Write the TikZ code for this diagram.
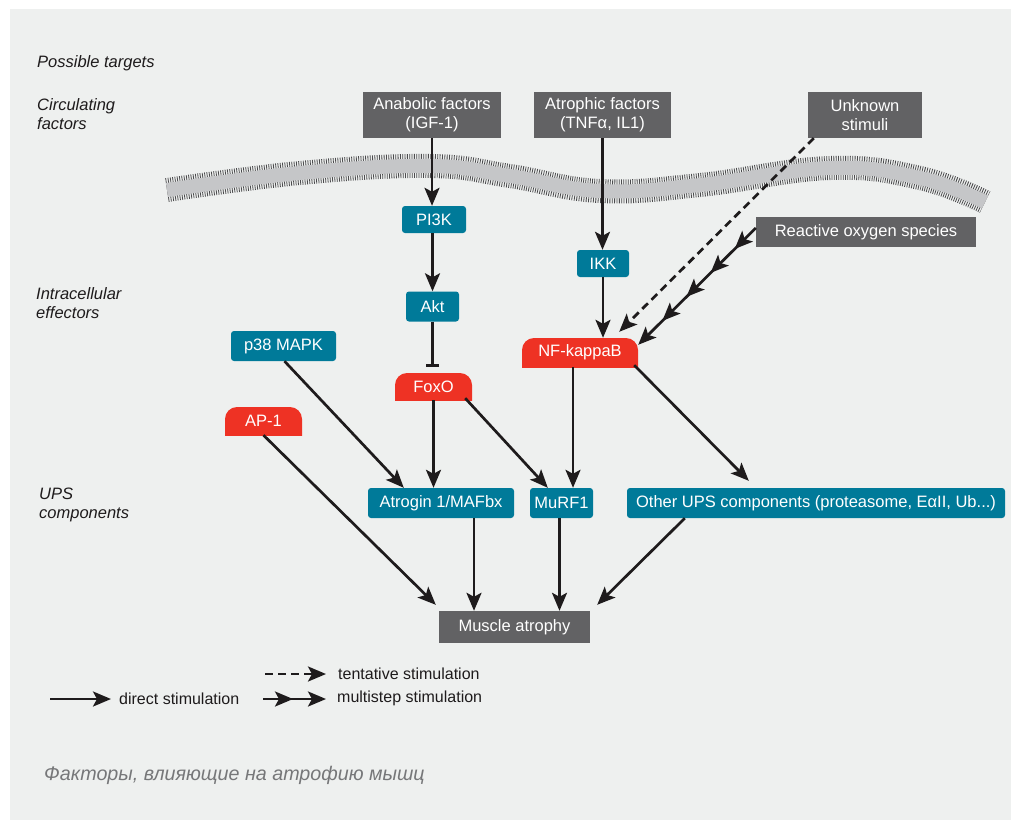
\documentclass[tikz,border=0pt]{standalone}
\usepackage{fontspec}
\setmainfont{Liberation Sans}
\usetikzlibrary{arrows.meta,calc,decorations.markings}
\definecolor{bgc}{RGB}{238,240,239}
\definecolor{dkbox}{RGB}{98,98,100}
\definecolor{tealc}{RGB}{0,122,153}
\definecolor{redc}{RGB}{238,50,36}
\definecolor{linec}{RGB}{30,27,28}
\definecolor{membc}{RGB}{197,198,200}
\definecolor{hatchc}{RGB}{75,75,77}
\definecolor{capc}{RGB}{118,119,121}
\newcommand{\boxfont}{\fontsize{16.5}{19}\selectfont}
\begin{document}
\begin{tikzpicture}[x=1pt,y=-1pt,
  dkb/.style={fill=dkbox, text=white, inner sep=0pt, align=center, font=\boxfont},
  tlb/.style={fill=tealc, rounded corners=3pt, text=white, inner sep=0pt, align=center, font=\boxfont},
  rdb/.style={text=white, inner sep=0pt, font=\boxfont,
    path picture={\fill[redc, rounded corners=12pt] ([yshift=-16pt]path picture bounding box.south west) rectangle (path picture bounding box.north east);}},
  lbl/.style={anchor=west, align=left, text=linec, font=\fontsize{16.5}{19.5}\selectfont\itshape, inner sep=0pt},
  lgt/.style={anchor=west, text=linec, font=\fontsize{16}{19}\selectfont, inner sep=0pt},
  conn/.style={draw=linec, line width=2.7pt, -{Stealth[length=18pt,width=15pt,inset=4pt]}},
  tent/.style={conn, dash pattern=on 8pt off 5pt},
  inhib/.style={draw=linec, line width=2.7pt, -{Bar[width=13pt,line width=2.7pt]}},
  multifive/.style={conn, postaction={decorate}, decoration={markings,
    mark=at position -34pt with {\arrow{Stealth[length=18pt,width=15pt,inset=4pt]}},
    mark=at position -68pt with {\arrow{Stealth[length=18pt,width=15pt,inset=4pt]}},
    mark=at position -102pt with {\arrow{Stealth[length=18pt,width=15pt,inset=4pt]}},
    mark=at position -136pt with {\arrow{Stealth[length=18pt,width=15pt,inset=4pt]}}}},
  multitwo/.style={conn, postaction={decorate}, decoration={markings,
    mark=at position -33pt with {\arrow{Stealth[length=18pt,width=15pt,inset=4pt]}}}}
]
\useasboundingbox (0,0) rectangle (1011,820);
\fill[white] (0,0) rectangle (1011,820);
\fill[bgc] (10,9) rectangle (1011,820);

% membrane
\draw[hatchc, line width=24pt, dash pattern=on 0.8pt off 1.5pt] plot[smooth, tension=0.7] coordinates {(167,190) (300,173) (430,166) (510,176) (600,191) (700,185) (830,168) (920,178) (985,202)};
\draw[membc, line width=14pt] plot[smooth, tension=0.7] coordinates {(167,190) (300,173) (430,166) (510,176) (600,191) (700,185) (830,168) (920,178) (985,202)};

% left labels
\node[lbl] (lpos) at (37,63) {Possible targets};
\node[lbl] (lcirc) at (37,114) {Circulating\\factors};
\node[lbl] (lintra) at (36,303) {Intracellular\\effectors};
\node[lbl] (lups) at (39,505) {UPS\\components};

% nodes
\node[dkb, minimum width=138pt, minimum height=46pt] (anab) at (432,115) {Anabolic factors\\(IGF-1)};
\node[dkb, minimum width=137pt, minimum height=46pt] (atro) at (602.5,115) {Atrophic factors\\(TNFα, IL1)};
\node[dkb, minimum width=114pt, minimum height=46pt] (unk) at (865,115) {Unknown\\stimuli};
\node[dkb, minimum width=220pt, minimum height=30pt] (ros) at (866,232) {Reactive oxygen species};
\node[dkb, minimum width=151pt, minimum height=32pt] (musc) at (514.5,627) {Muscle atrophy};

\node[tlb, minimum width=64pt, minimum height=27pt] (pi3k) at (434,219.5) {PI3K};
\node[tlb, minimum width=53pt, minimum height=30pt] (akt) at (432.5,306.5) {Akt};
\node[tlb, minimum width=52pt, minimum height=27pt] (ikk) at (603,263.5) {IKK};
\node[tlb, minimum width=105pt, minimum height=30pt] (p38) at (283.5,346) {p38 MAPK};
\node[tlb, minimum width=146pt, minimum height=30pt] (atrog) at (441,503) {Atrogin 1/MAFbx};
\node[tlb, minimum width=63pt, minimum height=30pt] (murf) at (561.5,503) {MuRF1};
\node[tlb, minimum width=378pt, minimum height=30pt] (ups) at (816,503) {Other UPS components (proteasome, EαII, Ub...)};

\node[rdb, minimum width=77pt, minimum height=27pt] (foxo) at (433.5,386.5) {FoxO};
\node[rdb, minimum width=116pt, minimum height=29pt] (nfkb) at (580,352.5) {NF-kappaB};
\node[rdb, minimum width=77pt, minimum height=28pt] (ap1) at (263.5,421) {AP-1};

% connectors
\draw[conn] (anab.south) -- (anab.south |- pi3k.north);
\draw[conn] (pi3k.south -| akt.north) -- (akt.north);
\draw[inhib, shorten >=6pt] (akt.south) -- (akt.south |- foxo.north);
\draw[conn] (atro.south) -- (atro.south |- ikk.north);
\draw[conn] (ikk.south) -- (ikk.south |- nfkb.north);
\draw[tent] ($(unk.south west)+(6,0)$) -- ($(nfkb.north east)+(-19,-6)$);
\draw[multifive] ($(ros.west)+(0,-4)$) -- ($(nfkb.north east)+(0,7)$);
\draw[conn] ($(p38.south)+(1,0)$) -- ($(atrog.north west)+(36,0)$);
\draw[conn] (ap1.south) -- ($(musc.north west)+(-3,-6)$);
\draw[conn] (foxo.south -| foxo.north) -- (foxo.south |- atrog.north);
\draw[conn] ($(foxo.south east)+(-7,-2)$) -- ($(murf.north west)+(18,0)$);
\draw[conn] ($(nfkb.south)+(-7,0)$) -- ($(murf.north)+(11.5,0)$);
\draw[conn] ($(nfkb.south east)+(-4,-2)$) -- ($(ups.north west)+(122,-7)$);
\coordinate (a1) at ($(atrog.south)+(33,0)$);
\draw[conn] (a1) -- (a1 |- musc.north);
\coordinate (m1) at ($(murf.south)+(-2,0)$);
\draw[conn] (m1) -- (m1 |- musc.north);
\draw[conn] ($(ups.south west)+(58,0)$) -- ($(musc.north east)+(7,-6)$);

% legend
\coordinate (ld1) at (50,699);
\coordinate (ld2) at (111,699);
\draw[conn] (ld1) -- (ld2);
\node[lgt] (ldt) at (119,699) {direct stimulation};
\coordinate (lt1) at (265,674);
\coordinate (lt2) at (326,674);
\draw[tent] (lt1) -- (lt2);
\node[lgt] (ltt) at (338,674) {tentative stimulation};
\coordinate (lm1) at (263,699);
\coordinate (lm2) at (326,699);
\draw[multitwo] (lm1) -- (lm2);
\node[lgt] (lmt) at (337,698) {multistep stimulation};

% caption
\node[anchor=west, inner sep=0pt, text=capc, font=\fontsize{19.7}{24}\selectfont\itshape] (cap) at (44,775) {Факторы, влияющие на атрофию мышц};
\end{tikzpicture}
\end{document}
